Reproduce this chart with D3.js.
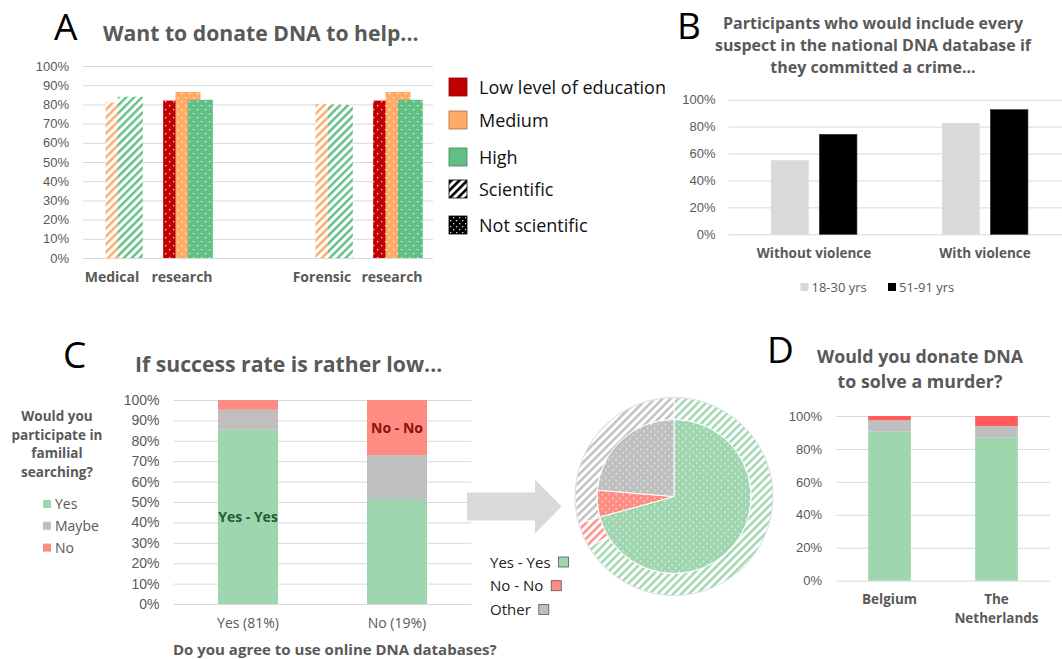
<!DOCTYPE html>
<html>
<head>
<meta charset="utf-8">
<script src="https://cdn.jsdelivr.net/npm/d3@7"></script>
<style>
body { margin: 0; background: #fff; }
svg { display: block; font-family: "Open Sans", Roboto, sans-serif; }
</style>
</head>
<body>
<div id="chart"></div>
<script>
// ---- data ----
// A: want to donate DNA to help...
const aCategories = ["Medical", "research", "", "Forensic", "research"];
const aStyle = ["sci", "not", null, "sci", "not"];
const aLow = [null, 82, null, null, 82];
const aMedium = [81, 86.5, null, 80.2, 86.5];
const aHigh = [84, 82.4, null, 79.7, 82.4];
const aLegend = ["Low level of education", "Medium", "High", "Scientific", "Not scientific"];

// B: include every suspect in the database
const bCategories = ["Without violence", "With violence"];
const bSeries = ["18-30 yrs", "51-91 yrs"];
const bYoung = [55, 82.7];
const bOld = [74.3, 92.6];

// C: familial searching vs online databases
const cCategories = ["Yes (81%)", "No (19%)"];
const cKeys = ["Yes", "Maybe", "No"];
const cYes = [85.4, 51.5];
const cMaybe = [9.8, 21.5];
const cNo = [4.8, 27];

// C pie
const pieLabels = ["Yes - Yes", "No - No", "Other"];
const pieInner = [70.7, 5.6, 23.7];
const pieOuter = [66.4, 4.2, 29.4];

// D: donate DNA to solve a murder
const dCategories = ["Belgium", "The Netherlands"];
const dYes = [90.5, 87.1];
const dMaybe = [6.9, 6.8];
const dNo = [2.6, 6.1];

const width = 1062, height = 659;
const grey = "#595959", grid = "#d9d9d9";
const eduColors = ["#c00000", "#ffaa66", "#5fbf84"];
const cColors = ["#9fd6b0", "#bfbfbf", "#ff8c82"];
const pieColors = ["#9fd6b0", "#ff8c82", "#bfbfbf"];
const dColors = ["#9fd6b0", "#bfbfbf", "#ff5b5b"];

const svg = d3.select("#chart").append("svg")
  .attr("width", width).attr("height", height)
  .attr("viewBox", [0, 0, width, height]);

const defs = svg.append("defs");
function hatch(id, color, size, w, bg) {
  const p = defs.append("pattern").attr("id", id)
    .attr("patternUnits", "userSpaceOnUse")
    .attr("width", size).attr("height", size)
    .attr("patternTransform", "rotate(45)");
  p.append("rect").attr("width", size).attr("height", size).attr("fill", bg || "#fff");
  p.append("rect").attr("width", w).attr("height", size).attr("fill", color);
  return `url(#${id})`;
}
function dots(id, color, size, r) {
  const p = defs.append("pattern").attr("id", id)
    .attr("patternUnits", "userSpaceOnUse")
    .attr("width", size).attr("height", size);
  p.append("rect").attr("width", size).attr("height", size).attr("fill", color);
  p.append("rect").attr("x", 1).attr("y", 1).attr("width", r).attr("height", r).attr("fill", "#fff").attr("opacity", 0.85);
  p.append("rect").attr("x", 1 + size / 2).attr("y", 1 + size / 2).attr("width", r).attr("height", r).attr("fill", "#fff").attr("opacity", 0.85);
  return `url(#${id})`;
}
const eduHatch = eduColors.map((c, i) => hatch("eh" + i, c, 5.6, 2.4));
const eduDots = eduColors.map((c, i) => dots("ed" + i, c, 8, 1.3));
const pieHatch = pieColors.map((c, i) => hatch("ph" + i, c, 5.6, 2.4));
const pieDots = pieColors.map((c, i) => dots("pd" + i, c, 7, 1.3));

function styleAxis(g, size) {
  g.select(".domain").remove();
  g.selectAll(".tick line").attr("stroke", grid);
  g.selectAll(".tick text").attr("fill", grey).attr("font-size", size);
}
function letter(t, x, y) {
  svg.append("text").attr("x", x).attr("y", y).attr("font-size", 37).attr("fill", "#000").text(t);
}

// ================= A =================
{
  const x = d3.scaleBand().domain(d3.range(aCategories.length)).range([83, 433]);
  const y = d3.scaleLinear().domain([0, 100]).range([258, 66]);
  const g = svg.append("g");
  g.append("g").attr("transform", "translate(83,0)")
    .call(d3.axisLeft(y).tickValues(d3.range(0, 101, 10)).tickFormat(d => d + "%").tickSize(-350).tickPadding(14))
    .call(a => styleAxis(a, 13));

  const bw = x.bandwidth() * 0.357, step = x.bandwidth() * 0.176;
  const series = [aLow, aMedium, aHigh];
  series.forEach((vals, s) => {
    g.append("g").selectAll("rect")
      .data(vals.map((v, i) => ({ v, i })).filter(d => d.v != null))
      .join("rect")
      .attr("x", d => x(d.i) + x.bandwidth() / 2 + (s - 1) * step - bw / 2)
      .attr("width", bw)
      .attr("y", d => y(d.v))
      .attr("height", d => y(0) - y(d.v))
      .attr("fill", d => aStyle[d.i] === "sci" ? eduHatch[s] : eduDots[s]);
  });

  g.append("g").selectAll("text").data(aCategories).join("text")
    .attr("x", (d, i) => x(i) + x.bandwidth() / 2 - 6)
    .attr("y", 282).attr("text-anchor", "middle")
    .attr("font-size", 14).attr("font-weight", 700).attr("fill", grey)
    .text(d => d);

  svg.append("text").attr("x", 103).attr("y", 41)
    .attr("font-size", 21.2).attr("font-weight", 700).attr("fill", grey)
    .text("Want to donate DNA to help...");
  letter("A", 54, 40);

  // legend
  const sciBox = hatch("lsci", "#000", 5.6, 2.6);
  const notBox = dots("lnot", "#000", 6, 1.3);
  const boxFill = [eduColors[0], eduColors[1], eduColors[2], sciBox, notBox];
  const boxStroke = [d3.color(eduColors[0]).darker(0.8), d3.color(eduColors[1]).darker(1.2), d3.color(eduColors[2]).darker(1), "#000", "#000"];
  const ly = [87, 120, 157, 189, 225];
  const lg = svg.append("g").selectAll("g").data(aLegend).join("g")
    .attr("transform", (d, i) => `translate(449,${ly[i]})`);
  lg.append("rect").attr("x", 0).attr("y", -9).attr("width", 18).attr("height", 18)
    .attr("fill", (d, i) => boxFill[i]).attr("stroke", (d, i) => boxStroke[i]).attr("stroke-width", 0.8);
  lg.append("text").attr("x", 30).attr("y", 6.5).attr("font-size", 18).attr("fill", "#111").text(d => d);
}

// ================= B =================
{
  const x = d3.scaleBand().domain(bCategories).range([728.5, 1070.5]);
  const y = d3.scaleLinear().domain([0, 100]).range([234.3, 99.7]);
  const g = svg.append("g");
  g.append("g").attr("transform", "translate(728.5,0)")
    .call(d3.axisLeft(y).tickValues(d3.range(0, 101, 20)).tickFormat(d => d + "%").tickSize(-342).tickPadding(13))
    .call(a => styleAxis(a, 13));

  const bw = 37.6, gap = 10.7;
  const cols = ["#d9d9d9", "#000"];
  [bYoung, bOld].forEach((vals, s) => {
    g.append("g").selectAll("rect").data(vals).join("rect")
      .attr("x", (d, i) => x(bCategories[i]) + x.bandwidth() / 2 + (s === 0 ? -gap / 2 - bw : gap / 2))
      .attr("width", bw)
      .attr("y", d => y(d)).attr("height", d => y(0) - y(d))
      .attr("fill", cols[s]).attr("stroke", s ? "#333" : "none").attr("stroke-width", 0.6);
  });
  g.append("g").selectAll("text").data(bCategories).join("text")
    .attr("x", d => x(d) + x.bandwidth() / 2).attr("y", 258)
    .attr("text-anchor", "middle").attr("font-size", 13.5).attr("font-weight", 700).attr("fill", grey)
    .text(d => d);

  const title = ["Participants who would include every", "suspect in the national DNA database if", "they committed a crime..."];
  svg.append("g").selectAll("text").data(title).join("text")
    .attr("x", 873).attr("y", (d, i) => 29 + i * 22)
    .attr("text-anchor", "middle").attr("font-size", 16).attr("font-weight", 700).attr("fill", grey)
    .text(d => d);
  letter("B", 677, 39);

  const lx = [800.5, 888];
  const lg = svg.append("g").selectAll("g").data(bSeries).join("g")
    .attr("transform", (d, i) => `translate(${lx[i]},287)`);
  lg.append("rect").attr("y", -4).attr("width", 8).attr("height", 8).attr("fill", (d, i) => cols[i]);
  lg.append("text").attr("x", 11).attr("y", 4.5).attr("font-size", 13).attr("fill", grey).text(d => d);
}

// ================= C =================
{
  const x = d3.scaleBand().domain(cCategories).range([173.5, 471.5]);
  const y = d3.scaleLinear().domain([0, 100]).range([604, 400]);
  const g = svg.append("g");
  g.append("g").attr("transform", "translate(173.5,0)")
    .call(d3.axisLeft(y).tickValues(d3.range(0, 101, 10)).tickFormat(d => d + "%").tickSize(-298).tickPadding(14))
    .call(a => styleAxis(a, 14));

  const rows = cCategories.map((c, i) => ({ cat: c, Yes: cYes[i], Maybe: cMaybe[i], No: cNo[i] }));
  const stack = d3.stack().keys(cKeys)(rows);
  const bw = 60;
  g.append("g").selectAll("g").data(stack).join("g")
    .attr("fill", (d, i) => cColors[i])
    .selectAll("rect").data(d => d).join("rect")
    .attr("x", d => x(d.data.cat) + x.bandwidth() / 2 - bw / 2).attr("width", bw)
    .attr("y", d => y(d[1])).attr("height", d => y(d[0]) - y(d[1]));

  // in-bar labels
  g.append("text").attr("x", x(cCategories[0]) + x.bandwidth() / 2).attr("y", y(cYes[0] / 2) + 5)
    .attr("text-anchor", "middle").attr("font-size", 14).attr("font-weight", 700).attr("fill", "#1b5e32")
    .text("Yes - Yes");
  g.append("text").attr("x", x(cCategories[1]) + x.bandwidth() / 2).attr("y", y(100 - cNo[1] / 2) + 5)
    .attr("text-anchor", "middle").attr("font-size", 14).attr("font-weight", 700).attr("fill", "#8b1010")
    .text("No - No");

  g.append("g").selectAll("text").data(cCategories).join("text")
    .attr("x", d => x(d) + x.bandwidth() / 2).attr("y", 628)
    .attr("text-anchor", "middle").attr("font-size", 14).attr("fill", grey).text(d => d);
  svg.append("text").attr("x", 173).attr("y", 655)
    .attr("font-size", 15).attr("font-weight", 700).attr("fill", grey)
    .text("Do you agree to use online DNA databases?");

  svg.append("text").attr("x", 135).attr("y", 372)
    .attr("font-size", 21.2).attr("font-weight", 700).attr("fill", grey)
    .text("If success rate is rather low...");
  letter("C", 63, 368);

  const q = ["Would you", "participate in", "familial", "searching?"];
  svg.append("g").selectAll("text").data(q).join("text")
    .attr("x", 57).attr("y", (d, i) => 421 + i * 18.7)
    .attr("text-anchor", "middle").attr("font-size", 13.5).attr("font-weight", 700).attr("fill", grey)
    .text(d => d);
  const lg = svg.append("g").selectAll("g").data(cKeys).join("g")
    .attr("transform", (d, i) => `translate(43,${504 + i * 21.8})`);
  lg.append("rect").attr("y", -4).attr("width", 8).attr("height", 8).attr("fill", (d, i) => cColors[i]);
  lg.append("text").attr("x", 12).attr("y", 5).attr("font-size", 14).attr("fill", grey).text(d => d);

  // arrow
  svg.append("path")
    .attr("d", "M467,492.5 L535,492.5 L535,479.5 L561.5,506.5 L535,533.5 L535,520.5 L467,520.5 Z")
    .attr("fill", "#d9d9d9");

  // pie
  const cx = 674, cy = 496.5;
  const pie = d3.pie().sort(null);
  const inner = d3.arc().innerRadius(0).outerRadius(77);
  const outer = d3.arc().innerRadius(77).outerRadius(99);
  const pg = svg.append("g").attr("transform", `translate(${cx},${cy})`);
  pg.append("g").selectAll("path").data(pie(pieOuter)).join("path")
    .attr("d", outer).attr("fill", (d, i) => pieHatch[i]).attr("stroke", "#fff").attr("stroke-width", 1);
  pg.append("g").selectAll("path").data(pie(pieInner)).join("path")
    .attr("d", inner).attr("fill", (d, i) => pieDots[i]).attr("stroke", "#fff").attr("stroke-width", 1);
  pg.append("circle").attr("r", 99).attr("fill", "none").attr("stroke", "#dcdcdc").attr("stroke-width", 1);

  const pl = svg.append("g").selectAll("g").data(pieLabels).join("g")
    .attr("transform", (d, i) => `translate(490,${562 + i * 23.7})`);
  pl.append("text").attr("y", 5.5).attr("font-size", 15).attr("fill", "#222").text(d => d);
  pl.each(function (d, i) {
    const w = d3.select(this).select("text").node().getComputedTextLength();
    d3.select(this).append("rect").attr("x", w + 8).attr("y", -5).attr("width", 10).attr("height", 10)
      .attr("fill", pieColors[i]).attr("stroke", "#555").attr("stroke-width", 0.8);
  });
}

// ================= D =================
{
  const x = d3.scaleBand().domain(dCategories).range([836, 1050]);
  const y = d3.scaleLinear().domain([0, 100]).range([580.7, 416]);
  const g = svg.append("g");
  g.append("g").attr("transform", "translate(836,0)")
    .call(d3.axisLeft(y).tickValues(d3.range(0, 101, 20)).tickFormat(d => d + "%").tickSize(-214).tickPadding(14))
    .call(a => styleAxis(a, 13));

  const rows = dCategories.map((c, i) => ({ cat: c, Yes: dYes[i], Maybe: dMaybe[i], No: dNo[i] }));
  const stack = d3.stack().keys(cKeys)(rows);
  const bw = 42.7;
  g.append("g").selectAll("g").data(stack).join("g")
    .attr("fill", (d, i) => dColors[i])
    .selectAll("rect").data(d => d).join("rect")
    .attr("x", d => x(d.data.cat) + x.bandwidth() / 2 - bw / 2).attr("width", bw)
    .attr("y", d => y(d[1])).attr("height", d => y(d[0]) - y(d[1]));

  g.append("g").selectAll("text").data(dCategories).join("text")
    .attr("x", d => x(d) + x.bandwidth() / 2).attr("y", 604)
    .attr("text-anchor", "middle").attr("font-size", 13.5).attr("font-weight", 700).attr("fill", grey)
    .selectAll("tspan").data(d => d === "The Netherlands" ? ["The", "Netherlands"] : [d]).join("tspan")
    .attr("x", function () { return d3.select(this.parentNode).attr("x"); })
    .attr("dy", (d, i) => i ? 18.7 : 0)
    .text(d => d);

  const title = ["Would you donate DNA", "to solve a murder?"];
  svg.append("g").selectAll("text").data(title).join("text")
    .attr("x", 920).attr("y", (d, i) => 363 + i * 25)
    .attr("text-anchor", "middle").attr("font-size", 17.8).attr("font-weight", 700).attr("fill", grey)
    .text(d => d);
  letter("D", 767, 363);
}
</script>
</body>
</html>
